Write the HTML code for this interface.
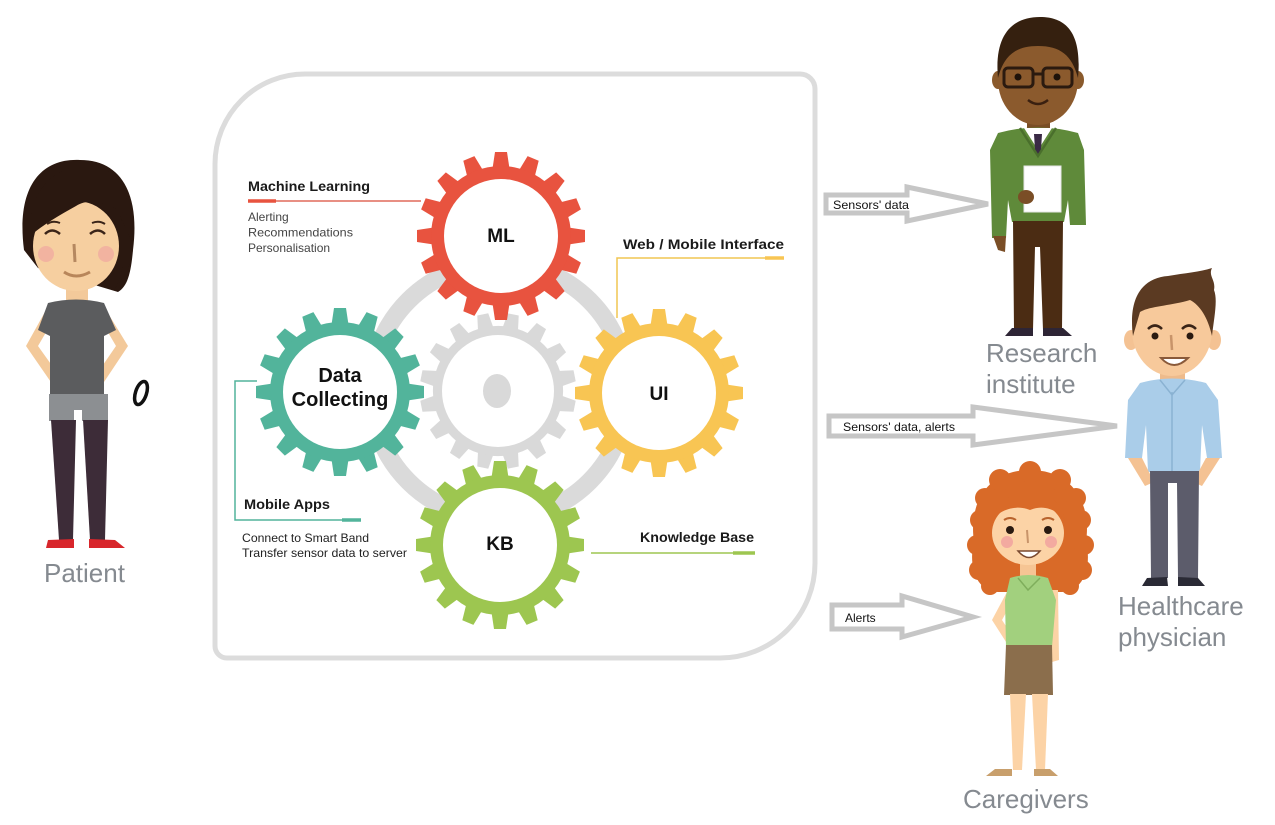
<!DOCTYPE html>
<html><head><meta charset="utf-8"><style>
html,body{margin:0;padding:0;background:#fff;}
svg{display:block;font-family:"Liberation Sans",Arial,sans-serif;}
</style></head><body>
<svg width="1275" height="825" viewBox="0 0 1275 825" xmlns="http://www.w3.org/2000/svg">
<defs>
<g id="teeth">
<polygon points="-9,-64 9,-64 6,-84 -6,-84" transform="rotate(0)"/>
<polygon points="-9,-64 9,-64 6,-84 -6,-84" transform="rotate(22.5)"/>
<polygon points="-9,-64 9,-64 6,-84 -6,-84" transform="rotate(45)"/>
<polygon points="-9,-64 9,-64 6,-84 -6,-84" transform="rotate(67.5)"/>
<polygon points="-9,-64 9,-64 6,-84 -6,-84" transform="rotate(90)"/>
<polygon points="-9,-64 9,-64 6,-84 -6,-84" transform="rotate(112.5)"/>
<polygon points="-9,-64 9,-64 6,-84 -6,-84" transform="rotate(135)"/>
<polygon points="-9,-64 9,-64 6,-84 -6,-84" transform="rotate(157.5)"/>
<polygon points="-9,-64 9,-64 6,-84 -6,-84" transform="rotate(180)"/>
<polygon points="-9,-64 9,-64 6,-84 -6,-84" transform="rotate(202.5)"/>
<polygon points="-9,-64 9,-64 6,-84 -6,-84" transform="rotate(225)"/>
<polygon points="-9,-64 9,-64 6,-84 -6,-84" transform="rotate(247.5)"/>
<polygon points="-9,-64 9,-64 6,-84 -6,-84" transform="rotate(270)"/>
<polygon points="-9,-64 9,-64 6,-84 -6,-84" transform="rotate(292.5)"/>
<polygon points="-9,-64 9,-64 6,-84 -6,-84" transform="rotate(315)"/>
<polygon points="-9,-64 9,-64 6,-84 -6,-84" transform="rotate(337.5)"/>
<circle r="70"/>
</g>
</defs>
<rect width="1275" height="825" fill="#fff"/>

<!-- Central box -->
<path d="M305 74 L800 74 A15 15 0 0 1 815 89 L815 563 A95 95 0 0 1 720 658 L227 658 A12 12 0 0 1 215 646 L215 164 A90 90 0 0 1 305 74 Z" fill="#fff" stroke="#dcdcdc" stroke-width="5"/>

<!-- gray ring -->
<circle cx="499" cy="391" r="128" fill="none" stroke="#dadada" stroke-width="18"/>

<!-- gray gear -->
<g transform="translate(498 391) scale(0.93) rotate(11.25)" fill="#d9d9d9"><use href="#teeth"/></g>
<circle cx="498" cy="391" r="56" fill="#fff"/>
<ellipse cx="497" cy="391" rx="14" ry="17" fill="#d9d9d9"/>

<!-- colored gears -->
<g transform="translate(501 236)" fill="#e8533f"><use href="#teeth"/></g>
<circle cx="501" cy="236" r="57" fill="#fff"/>
<g transform="translate(340 392)" fill="#52b49b"><use href="#teeth"/></g>
<circle cx="340" cy="392" r="57" fill="#fff"/>
<g transform="translate(659 393)" fill="#f8c553"><use href="#teeth"/></g>
<circle cx="659" cy="393" r="57" fill="#fff"/>
<g transform="translate(500 545)" fill="#9dc650"><use href="#teeth"/></g>
<circle cx="500" cy="545" r="57" fill="#fff"/>

<!-- gear labels -->
<g font-weight="bold" fill="#111" text-anchor="middle">
<text x="501" y="242" font-size="19">ML</text>
<text x="659" y="400" font-size="19">UI</text>
<text x="500" y="550" font-size="19">KB</text>
<text x="340" y="382" font-size="20">Data</text>
<text x="340" y="406" font-size="20">Collecting</text>
</g>

<!-- ML annotation -->
<text x="248" y="191" font-size="14" font-weight="bold" fill="#1a1a1a" textLength="122" lengthAdjust="spacingAndGlyphs">Machine Learning</text>
<line x1="248" y1="201" x2="421" y2="201" stroke="#e06a5a" stroke-width="1.5"/>
<line x1="248" y1="201" x2="276" y2="201" stroke="#e8533f" stroke-width="3.5"/>
<g font-size="12" fill="#444">
<text x="248" y="221">Alerting</text>
<text x="248" y="236.5" textLength="105" lengthAdjust="spacingAndGlyphs">Recommendations</text>
<text x="248" y="252">Personalisation</text>
</g>

<!-- UI annotation -->
<text x="623" y="249" font-size="14" font-weight="bold" fill="#1a1a1a" textLength="161" lengthAdjust="spacingAndGlyphs">Web / Mobile Interface</text>
<polyline points="617,318 617,258 784,258" fill="none" stroke="#f1c552" stroke-width="1.5"/>
<line x1="765" y1="258" x2="784" y2="258" stroke="#f8c553" stroke-width="3.5"/>

<!-- Mobile Apps annotation -->
<polyline points="257,381 235,381 235,520 361,520" fill="none" stroke="#52b49b" stroke-width="1.5"/>
<line x1="342" y1="520" x2="361" y2="520" stroke="#52b49b" stroke-width="3.5"/>
<text x="244" y="509" font-size="14" font-weight="bold" fill="#1a1a1a" textLength="86" lengthAdjust="spacingAndGlyphs">Mobile Apps</text>
<g font-size="12" fill="#222">
<text x="242" y="542" textLength="127" lengthAdjust="spacingAndGlyphs">Connect to Smart Band</text>
<text x="242" y="557" textLength="165" lengthAdjust="spacingAndGlyphs">Transfer sensor data to server</text>
</g>

<!-- KB annotation -->
<text x="640" y="542" font-size="14" font-weight="bold" fill="#1a1a1a" textLength="114" lengthAdjust="spacingAndGlyphs">Knowledge Base</text>
<line x1="591" y1="553" x2="755" y2="553" stroke="#9dc650" stroke-width="1.5"/>
<line x1="733" y1="553" x2="755" y2="553" stroke="#9dc650" stroke-width="3.5"/>

<!-- Arrows -->
<g fill="#fff" stroke="#c6c6c6" stroke-width="5" stroke-linejoin="miter">
<polygon points="826,195 907,195 907,187 988,204 907,221 907,213 826,213"/>
<polygon points="829,416 973,416 973,407 1117,426 973,445 973,436 829,436"/>
<polygon points="832,605 902,605 902,596 973,617 902,637 902,629 832,629"/>
</g>
<g font-size="12" fill="#111">
<text x="833" y="209" textLength="76" lengthAdjust="spacingAndGlyphs">Sensors' data</text>
<text x="843" y="431" textLength="112" lengthAdjust="spacingAndGlyphs">Sensors' data, alerts</text>
<text x="845" y="622">Alerts</text>
</g>

<!-- Person labels -->
<g font-size="26" fill="#858a90">
<text x="44" y="582">Patient</text>
<text x="986" y="362">Research</text>
<text x="986" y="393">institute</text>
<text x="1118" y="615">Healthcare</text>
<text x="1118" y="646">physician</text>
<text x="963" y="808">Caregivers</text>
</g>

<!-- ================= Patient ================= -->
<g>
<path d="M24 250 C16 188 40 158 80 160 C122 160 140 195 133 250 C131 272 128 286 118 292 L38 268 Z" fill="#2a1810"/>
<rect x="66" y="282" width="22" height="24" fill="#f3c99a"/>
<ellipse cx="76" cy="246" rx="43" ry="45" fill="#f6cfa0"/>
<path d="M30 236 C28 190 55 166 85 166 C114 166 130 185 127 215 C110 205 92 196 76 206 C60 215 44 224 30 236 Z" fill="#2a1810"/>
<path d="M120 215 C128 240 126 270 114 290 C122 280 133 265 133 245 Z" fill="#2a1810"/>
<path d="M45 234 Q52 227 60 234" stroke="#3a2418" stroke-width="2.5" fill="none"/>
<path d="M90 234 Q98 227 105 234" stroke="#3a2418" stroke-width="2.5" fill="none"/>
<path d="M47 224 Q53 220 60 223" stroke="#3a2418" stroke-width="2" fill="none"/>
<path d="M92 223 Q99 220 105 224" stroke="#3a2418" stroke-width="2" fill="none"/>
<circle cx="46" cy="254" r="8" fill="#f2b3a0"/>
<circle cx="106" cy="254" r="8" fill="#f2b3a0"/>
<line x1="74" y1="244" x2="75" y2="262" stroke="#b58860" stroke-width="3"/>
<path d="M64 272 Q76 280 90 272" stroke="#b8865a" stroke-width="3" fill="none"/>
<path d="M46 310 L26 346 L55 388 L63 381 L38 346 L52 322 Z" fill="#f3c99a"/>
<path d="M106 310 L128 346 L100 388 L92 381 L116 346 L102 322 Z" fill="#f3c99a"/>
<path d="M48 303 Q76 296 104 303 L116 330 L104 336 L104 396 L50 396 L50 336 L38 330 Z" fill="#5b5c5e"/>
<rect x="49" y="394" width="59" height="27" fill="#8c8f92"/>
<rect x="74" y="410" width="8" height="12" fill="#fff"/>
<path d="M51 420 L76 420 L73 540 L59 540 Z" fill="#3d2c38"/>
<path d="M83 420 L108 420 L105 540 L90 540 Z" fill="#3d2c38"/>
<path d="M46 548 L48 540 L74 539 L74 548 Z" fill="#d8262b"/>
<path d="M89 539 L115 540 L125 548 L89 548 Z" fill="#d8262b"/>
<ellipse cx="141" cy="393" rx="5.5" ry="12" transform="rotate(18 141 393)" fill="none" stroke="#111" stroke-width="3.5"/>
</g>

<!-- ================= Research institute ================= -->
<g>
<ellipse cx="998" cy="80" rx="6" ry="9" fill="#8a5a2c"/>
<ellipse cx="1078" cy="80" rx="6" ry="9" fill="#8a5a2c"/>
<rect x="1027" y="118" width="23" height="16" fill="#7a4e26"/>
<ellipse cx="1038" cy="80" rx="40" ry="45" fill="#8b5a2d"/>
<path d="M998 78 C994 35 1012 17 1040 17 C1068 17 1082 35 1078 78 C1072 55 1060 46 1038 46 C1016 46 1004 55 998 78 Z" fill="#35200f"/>
<rect x="1004" y="68" width="29" height="19" rx="4" fill="none" stroke="#2b1a0f" stroke-width="3"/>
<rect x="1043" y="68" width="29" height="19" rx="4" fill="none" stroke="#2b1a0f" stroke-width="3"/>
<line x1="1033" y1="74" x2="1043" y2="74" stroke="#2b1a0f" stroke-width="3"/>
<circle cx="1018" cy="77" r="3.5" fill="#1e120a"/>
<circle cx="1057" cy="77" r="3.5" fill="#1e120a"/>
<path d="M1028 100 Q1038 108 1048 100" stroke="#3a2010" stroke-width="2.5" fill="none"/>
<path d="M998 133 Q1038 122 1078 133 L1084 150 L1086 225 L1070 225 L1068 200 L1064 222 L1012 222 L1008 200 L1006 238 L992 238 L990 150 Z" fill="#5f8a3a"/>
<path d="M1024 128 L1038 150 L1052 128 Z" fill="#fff"/>
<path d="M1034 134 L1042 134 L1041 150 L1038 156 L1035 150 Z" fill="#3a2a45"/>
<path d="M1020 128 L1038 156 L1056 128" fill="none" stroke="#4a6f2c" stroke-width="2.5"/>
<path d="M993 236 L1006 236 L1005 252 L998 250 Z" fill="#7a4e26"/>
<rect x="1024" y="166" width="37" height="46" fill="#fff" stroke="#e5e5e5" stroke-width="1"/>
<ellipse cx="1026" cy="197" rx="8" ry="7" fill="#7a4e26"/>
<path d="M1013 221 L1063 221 L1062 330 L1043 330 L1040 247 L1035 247 L1033 330 L1014 330 Z" fill="#4b2c13"/>
<path d="M1005 336 L1012 328 L1033 328 L1033 336 Z" fill="#2e2535"/>
<path d="M1043 328 L1063 328 L1072 336 L1043 336 Z" fill="#2e2535"/>
</g>

<!-- ================= Healthcare physician ================= -->
<g>
<ellipse cx="1131" cy="340" rx="7" ry="10" fill="#f4c293"/>
<ellipse cx="1214" cy="340" rx="7" ry="10" fill="#f4c293"/>
<rect x="1160" y="365" width="25" height="22" fill="#eebb8c"/>
<ellipse cx="1172" cy="330" rx="40" ry="46" fill="#f7c99b"/>
<path d="M1133 336 C1128 298 1142 278 1168 276 C1185 273 1200 272 1212 268 C1208 276 1216 280 1214 290 C1218 300 1214 318 1212 336 C1208 318 1200 305 1190 300 C1170 306 1150 306 1140 312 Z" fill="#5b3a22"/>
<path d="M1148 329 Q1155 322 1162 329" stroke="#3a2417" stroke-width="2.5" fill="none"/>
<path d="M1182 329 Q1189 322 1196 329" stroke="#3a2417" stroke-width="2.5" fill="none"/>
<circle cx="1155" cy="336" r="3.5" fill="#2a1a10"/>
<circle cx="1190" cy="336" r="3.5" fill="#2a1a10"/>
<line x1="1171" y1="335" x2="1172" y2="350" stroke="#c8946a" stroke-width="2.5"/>
<path d="M1161 358 Q1174 372 1188 358 Z" fill="#fff" stroke="#8a5a3a" stroke-width="2"/>
<path d="M1140 383 Q1172 374 1206 383 L1218 400 L1222 458 L1207 458 L1202 425 L1200 472 L1148 472 L1146 425 L1142 458 L1125 458 L1128 400 Z" fill="#aacde9"/>
<line x1="1172" y1="392" x2="1172" y2="472" stroke="#8ab2d2" stroke-width="1.5"/>
<path d="M1160 380 L1172 395 L1185 380" fill="none" stroke="#8ab2d2" stroke-width="1.5"/>
<path d="M1128 458 L1142 458 L1154 482 L1145 486 Z" fill="#f4c293"/>
<path d="M1206 458 L1220 458 L1202 486 L1193 482 Z" fill="#f4c293"/>
<path d="M1150 471 L1199 471 L1198 578 L1178 578 L1177 483 L1168 483 L1168 578 L1151 578 Z" fill="#5c5c6b"/>
<path d="M1142 586 L1147 578 L1167 577 L1168 586 Z" fill="#2a2a35"/>
<path d="M1178 577 L1198 578 L1205 586 L1178 586 Z" fill="#2a2a35"/>
</g>

<!-- ================= Caregiver ================= -->
<g>
<g fill="#d96a28">
<path d="M998 592 C976 592 968 565 974 542 C968 500 990 470 1030 470 C1070 470 1092 500 1086 542 C1092 565 1084 592 1062 592 Z"/>
<circle cx="980" cy="520" r="10"/>
<circle cx="977" cy="545" r="10"/>
<circle cx="979" cy="570" r="10"/>
<circle cx="990" cy="586" r="9"/>
<circle cx="1081" cy="520" r="10"/>
<circle cx="1084" cy="545" r="10"/>
<circle cx="1082" cy="570" r="10"/>
<circle cx="1070" cy="586" r="9"/>
<circle cx="1000" cy="480" r="11"/>
<circle cx="1030" cy="472" r="11"/>
<circle cx="1060" cy="480" r="11"/>
<circle cx="985" cy="498" r="10"/>
<circle cx="1076" cy="498" r="10"/>
</g>
<rect x="1020" y="560" width="16" height="22" fill="#f6c594"/>
<ellipse cx="1028" cy="533" rx="36" ry="32" fill="#fcd3a6"/>
<path d="M992 520 C996 500 1012 492 1030 496 C1048 492 1062 502 1065 520 C1055 508 1042 505 1030 510 C1018 505 1002 508 992 520 Z" fill="#d96a28"/>
<circle cx="1010" cy="530" r="4" fill="#2a1a10"/>
<circle cx="1048" cy="530" r="4" fill="#2a1a10"/>
<path d="M1004 520 Q1010 516 1016 520" stroke="#b9632d" stroke-width="2" fill="none"/>
<path d="M1042 520 Q1048 516 1054 520" stroke="#b9632d" stroke-width="2" fill="none"/>
<circle cx="1007" cy="542" r="6" fill="#f3aaa0"/>
<circle cx="1051" cy="542" r="6" fill="#f3aaa0"/>
<line x1="1027" y1="530" x2="1028" y2="543" stroke="#c8946a" stroke-width="2"/>
<path d="M1018 551 Q1029 564 1040 551 Z" fill="#fff" stroke="#7a4a30" stroke-width="1.5"/>
<path d="M1008 590 L992 620 L1008 645 L1015 640 L1002 620 L1014 598 Z" fill="#fcd3a6"/>
<path d="M1050 590 L1058 590 L1059 660 L1052 662 Z" fill="#fcd3a6"/>
<path d="M1010 578 Q1028 572 1048 578 L1056 600 L1052 647 L1006 647 L1005 600 Z" fill="#a2d07e"/>
<path d="M1018 578 L1028 590 L1040 578" fill="none" stroke="#7fae5c" stroke-width="1.5"/>
<path d="M1006 645 L1052 645 L1053 695 L1004 695 Z" fill="#8b6e4c"/>
<path d="M1010 694 L1026 694 L1022 770 L1013 770 Z" fill="#fcd3a6"/>
<path d="M1032 694 L1048 694 L1045 770 L1036 770 Z" fill="#fcd3a6"/>
<path d="M986 776 L995 769 L1012 769 L1012 776 Z" fill="#c89f6c"/>
<path d="M1034 769 L1050 769 L1058 776 L1034 776 Z" fill="#c89f6c"/>
</g>
</svg>
</body></html>
